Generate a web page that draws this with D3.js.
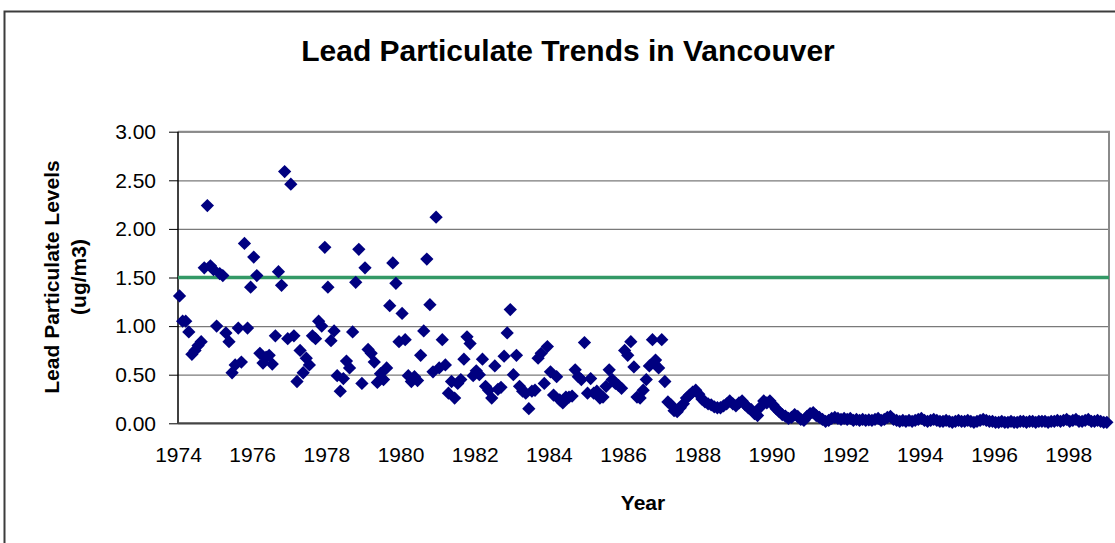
<!DOCTYPE html>
<html>

<head>
  <title>Lead Particulate Trends in Vancouver</title>
  <script src="https://cdn.jsdelivr.net/npm/d3@7"></script>
  <style>
    body {
      margin: 0;
      background-color: #fff;
    }

    text {
      font-family: 'Liberation Sans', Arial, sans-serif;
      fill: #000;
    }
  </style>
</head>

<body>

<svg width="1115" height="543" id="svg"></svg>

<script>
  // monthly lead readings (ug/m3), first month is Jan 1974
  var startYear = 1974;

  var lead1974_82 = [1.31, 1.05, 1.05, 0.94, 0.71, 0.75, 0.80, 0.84, 1.60, 2.24,
    1.62, 1.58, 1.00, 1.54, 1.52, 0.93, 0.84, 0.52, 0.60, 0.98,
    0.63, 1.85, 0.98, 1.40, 1.71, 1.52, 0.72, 0.62, 0.68, 0.70,
    0.61, 0.90, 1.56, 1.42, 2.59, 0.87, 2.46, 0.90, 0.43, 0.75,
    0.52, 0.67, 0.60, 0.90, 0.87, 1.05, 1.00, 1.81, 1.40, 0.85,
    0.95, 0.49, 0.33, 0.46, 0.64, 0.57, 0.94, 1.45, 1.79, 0.41,
    1.60, 0.76, 0.72, 0.63, 0.42, 0.51, 0.45, 0.57, 1.21, 1.65,
    1.44, 0.84, 1.13, 0.86, 0.49, 0.43, 0.48, 0.44, 0.70, 0.95,
    1.69, 1.22, 0.53, 2.12, 0.57, 0.86, 0.60, 0.31, 0.43, 0.26,
    0.41, 0.45, 0.66, 0.89, 0.82, 0.49, 0.54, 0.50, 0.66, 0.38,
    0.34, 0.26, 0.59];

  var lead1982_87 = [0.35, 0.37, 0.69, 0.93, 1.17, 0.50, 0.70, 0.38, 0.33, 0.31,
    0.15, 0.33, 0.34, 0.67, 0.72, 0.41, 0.79, 0.53, 0.29, 0.48,
    0.24, 0.21, 0.27, 0.27, 0.28, 0.55, 0.48, 0.45, 0.83, 0.31,
    0.46, 0.31, 0.33, 0.26, 0.27, 0.38, 0.55, 0.45, 0.41, 0.39,
    0.36, 0.75, 0.70, 0.84, 0.58, 0.27, 0.26, 0.34, 0.45, 0.59,
    0.86, 0.65, 0.57, 0.86, 0.43, 0.22];

  var lead1987_91 = [0.19, 0.13, 0.12, 0.16, 0.20, 0.26, 0.29, 0.32, 0.34, 0.30,
    0.25, 0.22, 0.20, 0.19, 0.17, 0.16, 0.16, 0.18, 0.20, 0.23,
    0.20, 0.18, 0.21, 0.23, 0.19, 0.16, 0.14, 0.10, 0.08, 0.17,
    0.23, 0.21, 0.23, 0.19, 0.15, 0.12, 0.09, 0.075, 0.05, 0.06,
    0.09, 0.07, 0.04, 0.03, 0.07, 0.10, 0.11, 0.08, 0.06, 0.04,
    0.02, 0.03, 0.05, 0.06, 0.05, 0.04, 0.05, 0.04, 0.05, 0.03,
    0.04, 0.03, 0.04, 0.03, 0.035, 0.03, 0.04, 0.05, 0.03, 0.04,
    0.06, 0.07, 0.04, 0.03];

  var lead1991_99 = [0.02, 0.03, 0.02, 0.03, 0.02, 0.03, 0.04, 0.05, 0.03, 0.02,
    0.03, 0.04, 0.03, 0.02, 0.02, 0.03, 0.02, 0.01, 0.02, 0.03,
    0.02, 0.02, 0.03, 0.02, 0.01, 0.02, 0.03, 0.04, 0.03, 0.02,
    0.02, 0.01, 0.01, 0.02, 0.01, 0.01, 0.02, 0.01, 0.01, 0.02,
    0.02, 0.01, 0.02, 0.02, 0.01, 0.02, 0.02, 0.02, 0.01, 0.02,
    0.02, 0.03, 0.02, 0.03, 0.04, 0.02, 0.03, 0.04, 0.02, 0.02,
    0.03, 0.04, 0.02, 0.02, 0.03, 0.02, 0.01, 0.01];

  var objective = 1.5; // green reference line
  var yTicks = [0, 0.5, 1, 1.5, 2, 2.5, 3];
  var xTicks = [1974, 1976, 1978, 1980, 1982, 1984, 1986, 1988, 1990, 1992, 1994, 1996, 1998];

  var lead = lead1974_82.concat(lead1982_87, lead1987_91, lead1991_99)
    .map((v, i) => ({ year: startYear + (i + 0.5) / 12, value: v }));

  var svg = d3.select('#svg');

  // plot area edges
  var plotL = 178, plotR = 1109, plotT = 131.7, plotB = 423.3;

  var x = d3.scaleLinear().domain([1974, 1999.1]).range([plotL, plotR]);
  var y = d3.scaleLinear().domain([0, 3]).range([plotB, plotT]);

  // outer chart border
  svg.append('rect')
    .attr('x', 4.5).attr('y', 11.5)
    .attr('width', 1200).attr('height', 600)
    .attr('fill', 'none')
    .attr('stroke', '#3c3c3c')
    .attr('stroke-width', 2);

  // title
  svg.append('text')
    .attr('x', 568).attr('y', 61)
    .attr('text-anchor', 'middle')
    .style('font-size', '30px')
    .style('font-weight', 'bold')
    .text('Lead Particulate Trends in Vancouver');

  // gridlines
  var grid = svg.append('g')
    .attr('transform', `translate(${plotL},0)`)
    .call(d3.axisLeft(y).tickValues(yTicks).tickSize(-(plotR - plotL)).tickFormat(''));
  grid.select('.domain').remove();
  grid.selectAll('line').attr('stroke', '#7a7a7a').attr('stroke-width', 1.2);

  // plot border, top and right
  svg.append('path')
    .attr('d', `M${plotL},${plotT}H${plotR}V${plotB}`)
    .attr('fill', 'none')
    .attr('stroke', '#8a8a8a')
    .attr('stroke-width', 2);

  // y axis
  var yAxis = svg.append('g')
    .attr('transform', `translate(${plotL},0)`)
    .call(d3.axisLeft(y).tickValues(yTicks).tickSize(9).tickPadding(13).tickFormat(d3.format('.2f')));
  yAxis.select('.domain').remove();
  yAxis.selectAll('line').attr('stroke', '#000');
  yAxis.selectAll('text').style('font-size', '21px').attr('font-family', null);

  // x axis labels, no tick marks
  var xAxis = svg.append('g')
    .attr('transform', `translate(0,${plotB})`)
    .call(d3.axisBottom(x).tickValues(xTicks).tickSize(0).tickPadding(24).tickFormat(d3.format('d')));
  xAxis.select('.domain').remove();
  xAxis.selectAll('text').style('font-size', '21px').attr('font-family', null);

  // axis lines
  svg.append('line')
    .attr('x1', plotL).attr('x2', plotL).attr('y1', plotT).attr('y2', plotB)
    .attr('stroke', '#000').attr('stroke-width', 1.5);
  svg.append('line')
    .attr('x1', plotL).attr('x2', plotR).attr('y1', y(0)).attr('y2', y(0))
    .attr('stroke', '#444').attr('stroke-width', 2);

  // objective line
  svg.append('line')
    .attr('x1', plotL).attr('x2', plotR)
    .attr('y1', y(objective)).attr('y2', y(objective))
    .attr('stroke', '#339966').attr('stroke-width', 3.5);

  // diamonds
  var diamond = d3.symbol().type(d3.symbolSquare).size(88);
  svg.append('g')
    .selectAll('path')
    .data(lead)
    .join('path')
    .attr('d', diamond)
    .attr('transform', d => `translate(${x(d.year)},${y(d.value)}) rotate(45)`)
    .attr('fill', '#000080');

  // axis titles
  svg.append('text')
    .attr('transform', 'translate(59,277) rotate(-90)')
    .attr('text-anchor', 'middle')
    .style('font-size', '21px')
    .style('font-weight', 'bold')
    .text('Lead Particulate Levels');
  svg.append('text')
    .attr('transform', 'translate(86,277) rotate(-90)')
    .attr('text-anchor', 'middle')
    .style('font-size', '21px')
    .style('font-weight', 'bold')
    .text('(ug/m3)');

  svg.append('text')
    .attr('x', 643).attr('y', 510)
    .attr('text-anchor', 'middle')
    .style('font-size', '21px')
    .style('font-weight', 'bold')
    .text('Year');
</script>

</body>

</html>
